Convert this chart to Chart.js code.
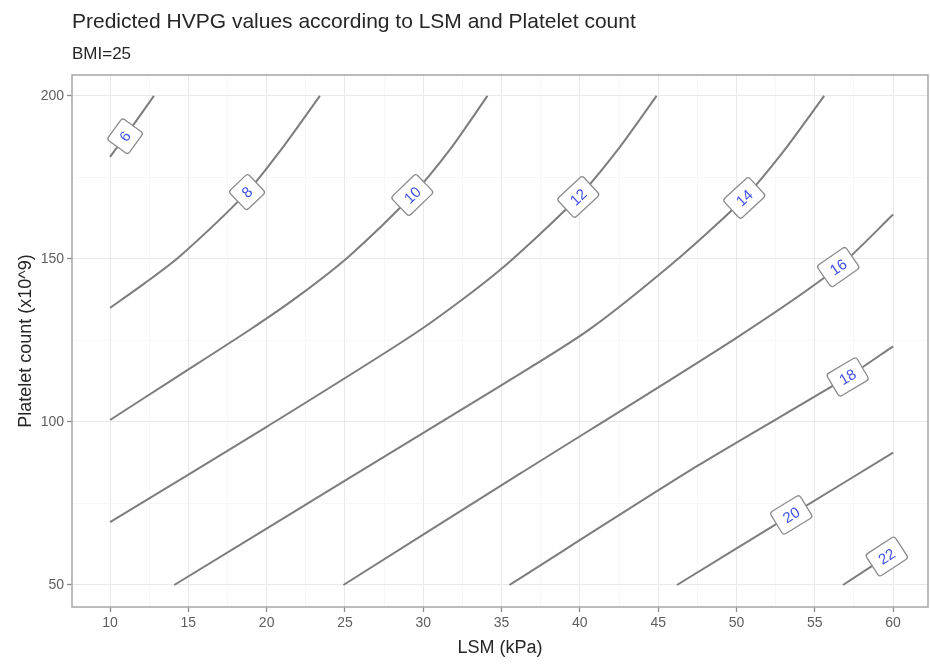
<!DOCTYPE html>
<html lang="en">
<head>
<meta charset="UTF-8">
<title>Predicted HVPG values</title>
<script src="https://cdn.jsdelivr.net/npm/chart.js@4.4.1/dist/chart.umd.min.js"></script>
<style>
    html, body { margin: 0; padding: 0; background: #ffffff; }
    #wrap { width: 930px; height: 670px; }
</style>
</head>
<body>
<div id="wrap"><canvas id="hvpgChart" width="930" height="670"></canvas></div>
<script>
// contour levels (HVPG) and the path of each contour line
const hvpgLevels = [6, 8, 10, 12, 14, 16, 18, 20, 22];
const lsmLines = [
    [10, 11.4, 12.8],
    [10, 12.2, 14.5, 18.75, 21, 23.4],
    [10, 14, 18.9, 22, 25.3, 29.3, 31.7, 34.1],
    [10, 20, 29.8, 34.9, 39.9, 42.5, 44.9],
    [14.1, 25, 34.9, 40.5, 46.5, 50.5, 53, 55.6],
    [24.9, 36.2, 50, 56.5, 60],
    [35.5, 47.5, 57.1, 60],
    [46.2, 53.5, 60],
    [56.8, 60]
];
const pltLines = [
    [181.3, 190.5, 200],
    [135, 142.5, 151, 170.5, 184, 200],
    [100.6, 113, 128.2, 138.5, 151, 169.6, 183.5, 200],
    [69.3, 98.5, 128.2, 146.6, 169, 184, 200],
    [50, 82, 111, 128, 151, 168.7, 183, 200],
    [50, 84.2, 125.8, 147.5, 163.6],
    [50, 86.5, 113.8, 123.2],
    [50, 71.5, 90.6],
    [50, 60]
];
// where along each line the level label sits (LSM value)
const labelLsm = [10.96, 18.75, 29.3, 39.9, 50.5, 56.5, 57.1, 53.5, 59.6];

const xTicks = [10, 15, 20, 25, 30, 35, 40, 45, 50, 55, 60];
const xMinor = [12.5, 17.5, 22.5, 27.5, 32.5, 37.5, 42.5, 47.5, 52.5, 57.5];
const yTicks = [50, 100, 150, 200];
const yMinor = [75, 125, 175];

const FONT = '"Liberation Sans", Arial, Helvetica, sans-serif';

const datasets = hvpgLevels.map((lvl, i) => ({
    label: 'HVPG ' + lvl,
    data: lsmLines[i].map((v, j) => ({ x: v, y: pltLines[i][j] })),
    showLine: true,
    borderColor: '#7d7d7d',
    borderWidth: 2,
    pointRadius: 0,
    tension: 0.25
}));

// title + subtitle, left aligned with the panel
const titles = {
    id: 'titles',
    afterDraw(chart) {
        const ctx = chart.ctx;
        const left = chart.chartArea.left;
        ctx.save();
        ctx.fillStyle = '#262626';
        ctx.textBaseline = 'middle';
        ctx.textAlign = 'left';
        ctx.font = '21px ' + FONT;
        ctx.fillText('Predicted HVPG values according to LSM and Platelet count', left, 22);
        ctx.font = '17px ' + FONT;
        ctx.fillText('BMI=25', left, 54);
        ctx.restore();
    }
};

// panel border drawn over everything, like ggplot's theme_bw
const panelBorder = {
    id: 'panelBorder',
    afterDatasetsDraw(chart) {
        const { ctx, chartArea: a } = chart;
        ctx.save();
        ctx.strokeStyle = '#a6a6a6';
        ctx.lineWidth = 1.5;
        ctx.strokeRect(a.left, a.top, a.right - a.left, a.bottom - a.top);
        ctx.restore();
    }
};

// level labels in rotated white boxes
const contourLabels = {
    id: 'contourLabels',
    afterDatasetsDraw(chart) {
        const { ctx, scales: { x, y } } = chart;
        hvpgLevels.forEach((lvl, i) => {
            const xs = lsmLines[i], ys = pltLines[i];
            const lx = labelLsm[i];
            let k = 0;
            while (k < xs.length - 2 && xs[k + 1] < lx) k++;
            const t = (lx - xs[k]) / (xs[k + 1] - xs[k]);
            const ly = ys[k] + t * (ys[k + 1] - ys[k]);
            const px = x.getPixelForValue(lx);
            const py = y.getPixelForValue(ly);
            const ang = Math.atan2(
                y.getPixelForValue(ys[k + 1]) - y.getPixelForValue(ys[k]),
                x.getPixelForValue(xs[k + 1]) - x.getPixelForValue(xs[k])
            );
            const txt = String(lvl);
            ctx.save();
            ctx.font = '15px ' + FONT;
            const w = ctx.measureText(txt).width + 18;
            const h = 26;
            ctx.translate(px, py);
            ctx.rotate(ang);
            ctx.beginPath();
            ctx.roundRect(-w / 2, -h / 2, w, h, 3);
            ctx.fillStyle = '#ffffff';
            ctx.fill();
            ctx.strokeStyle = '#8c8c8c';
            ctx.lineWidth = 1.3;
            ctx.stroke();
            ctx.fillStyle = '#3f51e8';
            ctx.textAlign = 'center';
            ctx.textBaseline = 'middle';
            ctx.fillText(txt, 0, 1);
            ctx.restore();
        });
    }
};

function majorOr(list, major) {
    return ctx => (ctx.tick && list.includes(ctx.tick.value)) ? major : 'rgba(0,0,0,0)';
}

new Chart(document.getElementById('hvpgChart'), {
    type: 'scatter',
    data: { datasets },
    options: {
        responsive: false,
        animation: false,
        devicePixelRatio: 1,
        layout: { padding: { top: 75, right: 2, left: 0, bottom: 0 } },
        plugins: {
            legend: { display: false },
            tooltip: { enabled: false }
        },
        scales: {
            x: {
                type: 'linear',
                min: 7.57,
                max: 62.23,
                afterBuildTicks: s => { s.ticks = xTicks.concat(xMinor).sort((a, b) => a - b).map(v => ({ value: v })); },
                afterFit: s => { s.height = 63; },
                border: { display: false },
                grid: {
                    color: ctx => xTicks.includes(ctx.tick.value) ? '#e9e9e9' : '#f4f4f4',
                    lineWidth: ctx => xTicks.includes(ctx.tick.value) ? 1 : 0.7,
                    tickColor: majorOr(xTicks, '#8c8c8c'),
                    tickLength: 5,
                    tickWidth: 1.3
                },
                ticks: {
                    autoSkip: false,
                    maxRotation: 0,
                    padding: 3,
                    color: '#5e5e5e',
                    font: { family: FONT, size: 14 },
                    callback: v => xTicks.includes(v) ? String(v) : ''
                },
                title: {
                    display: true,
                    text: 'LSM (kPa)',
                    color: '#262626',
                    font: { family: FONT, size: 18 },
                    padding: { top: 0, bottom: 11 }
                }
            },
            y: {
                type: 'linear',
                min: 43.25,
                max: 206.4,
                afterBuildTicks: s => { s.ticks = yTicks.concat(yMinor).sort((a, b) => a - b).map(v => ({ value: v })); },
                afterFit: s => { s.width = 72; },
                border: { display: false },
                grid: {
                    color: ctx => yTicks.includes(ctx.tick.value) ? '#e9e9e9' : '#f4f4f4',
                    lineWidth: ctx => yTicks.includes(ctx.tick.value) ? 1 : 0.7,
                    tickColor: majorOr(yTicks, '#8c8c8c'),
                    tickLength: 5,
                    tickWidth: 1.3
                },
                ticks: {
                    autoSkip: false,
                    padding: 3,
                    color: '#5e5e5e',
                    font: { family: FONT, size: 14 },
                    callback: v => yTicks.includes(v) ? String(v) : ''
                },
                title: {
                    display: true,
                    text: 'Platelet count (x10^9)',
                    color: '#262626',
                    font: { family: FONT, size: 18 },
                    padding: { top: 15, bottom: 0 }
                }
            }
        }
    },
    plugins: [contourLabels, panelBorder, titles]
});
</script>
</body>
</html>
